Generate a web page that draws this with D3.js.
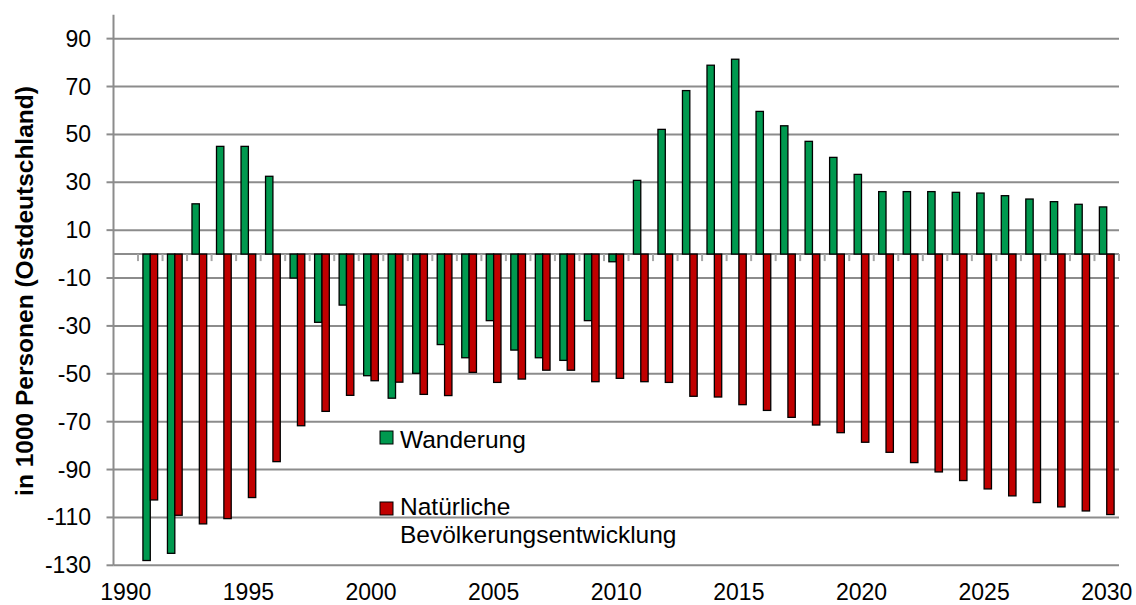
<!DOCTYPE html>
<html>
<head>
<meta charset="utf-8">
<script src="https://cdn.jsdelivr.net/npm/d3@7"></script>
<style>
  body { margin: 0; background: #fff; }
  text { font-family: "Liberation Sans", Arial, sans-serif; fill: #000; }
</style>
</head>
<body>
<script>
// categories (1990 is an empty slot, like in the original chart)
const years = d3.range(1990, 2031);
const yearLabels = [1990, 1995, 2000, 2005, 2010, 2015, 2020, 2025, 2030];
const yTicks = [-130, -110, -90, -70, -50, -30, -10, 10, 30, 50, 70, 90];

// in 1000 Personen
const wanderung = [null, -128, -125, 21, 45, 45, 32.5, -10, -28.5, -21.3, -50.8,
  -60.2, -49.8, -37.8, -43.3, -27.8, -40.1, -43.3, -44.4, -27.8, -3.2,
  30.8, 52.1, 68.3, 78.9, 81.4, 59.6, 53.6, 47.1, 40.4, 33.3,
  26.1, 26.1, 26.1, 25.8, 25.5, 24.4, 23, 21.9, 20.8, 19.7];
const natuerlich = [null, -102.7, -109.1, -112.7, -110.5, -101.7, -86.7, -71.7, -65.7, -59, -52.9,
  -53.5, -58.6, -59.1, -49.4, -53.6, -52.2, -48.5, -48.5, -53.3, -51.9,
  -53.3, -53.6, -59.4, -59.7, -62.9, -65.3, -68.2, -71.4, -74.6, -78.6,
  -82.8, -87.1, -91, -94.6, -98.1, -101, -103.8, -105.6, -107.3, -108.8];

const seriesNames = ["Wanderung", "Natürliche Bevölkerungsentwicklung"];
const colors = ["#00994f", "#c00000"];

const width = 1136, height = 605;
const plotLeft = 113.5, plotRight = 1119, plotTop = 14.7, plotBottom = 565.3;

const svg = d3.select("body").append("svg")
  .attr("width", width)
  .attr("height", height);

const x = d3.scaleBand().domain(years).range([plotLeft, plotRight]).padding(0);
const bw = x.bandwidth();
const inner = d3.scaleBand().domain([0, 1]).range([bw * 0.2, bw * 0.8]);
const y = d3.scaleLinear().domain([-130, 100]).range([plotBottom, plotTop]);

// gridlines
svg.append("g").selectAll("line").data(yTicks).join("line")
  .attr("x1", plotLeft).attr("x2", plotRight)
  .attr("y1", d => y(d)).attr("y2", d => y(d))
  .attr("stroke", "#8c8c8c").attr("stroke-width", 2);

// y axis line + ticks + labels
svg.append("line")
  .attr("x1", plotLeft).attr("x2", plotLeft)
  .attr("y1", plotTop).attr("y2", plotBottom)
  .attr("stroke", "#8c8c8c").attr("stroke-width", 2);

svg.append("g").selectAll("line").data(yTicks).join("line")
  .attr("x1", plotLeft - 7).attr("x2", plotLeft)
  .attr("y1", d => y(d)).attr("y2", d => y(d))
  .attr("stroke", "#8c8c8c").attr("stroke-width", 2);

svg.append("g").selectAll("text").data(yTicks).join("text")
  .attr("x", 91)
  .attr("y", d => y(d))
  .attr("dy", "0.35em")
  .attr("text-anchor", "end")
  .style("font-size", "23px")
  .text(d => d);

// category axis on zero line
svg.append("line")
  .attr("x1", plotLeft).attr("x2", plotRight)
  .attr("y1", y(0)).attr("y2", y(0))
  .attr("stroke", "#8c8c8c").attr("stroke-width", 2);

// small ticks at the category boundaries
const boundaries = years.slice(1).map(d => x(d)).concat([plotRight]);
svg.append("g").selectAll("line").data(boundaries).join("line")
  .attr("x1", d => d).attr("x2", d => d)
  .attr("y1", y(0)).attr("y2", y(0) + 7)
  .attr("stroke", "#a6a6a6").attr("stroke-width", 2);

// bars
[wanderung, natuerlich].forEach((vals, s) => {
  svg.append("g").selectAll("rect")
    .data(years.map((yr, i) => ({ yr, v: vals[i] })).filter(d => d.v !== null))
    .join("rect")
    .attr("x", d => x(d.yr) + inner(s))
    .attr("width", inner.bandwidth())
    .attr("y", d => y(Math.max(0, d.v)))
    .attr("height", d => Math.abs(y(d.v) - y(0)))
    .attr("fill", colors[s])
    .attr("stroke", "#000")
    .attr("stroke-width", 1.3);
});

// x labels
svg.append("g").selectAll("text").data(yearLabels).join("text")
  .attr("x", d => x(d) + bw / 2)
  .attr("y", 600)
  .attr("text-anchor", "middle")
  .style("font-size", "23px")
  .text(d => d);

// y title
svg.append("text")
  .attr("transform", "translate(33,291) rotate(-90)")
  .attr("text-anchor", "middle")
  .style("font-size", "24.5px")
  .style("font-weight", "bold")
  .text("in 1000 Personen (Ostdeutschland)");

// legend
const legend = svg.append("g");
const legY = [431, 502];
legend.selectAll("rect").data(seriesNames).join("rect")
  .attr("x", 380).attr("y", (d, i) => legY[i])
  .attr("width", 13).attr("height", 13)
  .attr("fill", (d, i) => colors[i])
  .attr("stroke", "#000").attr("stroke-width", 1);

legend.append("text").attr("x", 400).attr("y", 448)
  .style("font-size", "24.5px").text("Wanderung");
legend.append("text").attr("x", 400).attr("y", 515)
  .style("font-size", "24.5px").text("Natürliche");
legend.append("text").attr("x", 400).attr("y", 543)
  .style("font-size", "24.5px").text("Bevölkerungsentwicklung");
</script>
</body>
</html>
